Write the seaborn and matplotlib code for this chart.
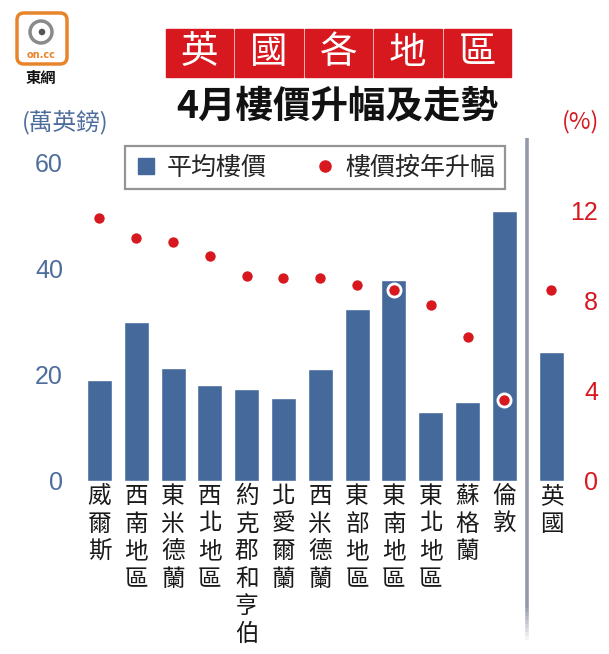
#英國各地區 4月樓價升幅及走勢
import numpy as np
import matplotlib.pyplot as plt
import matplotlib.transforms as mtransforms
from matplotlib.patches import Rectangle, FancyBboxPatch, Circle
from matplotlib.lines import Line2D
import seaborn as sns

regions = ['威爾斯', '西南地區', '東米德蘭', '西北地區', '約克郡和亨伯', '北愛爾蘭',
           '西米德蘭', '東部地區', '東南地區', '東北地區', '蘇格蘭', '倫敦', '英國']
avg_price = [19.0, 30.0, 21.4, 18.1, 17.3, 15.7, 21.2, 32.4, 37.9, 13.0, 15.0, 51.0, 24.3]  # 萬英鎊
yoy_rise = [11.7, 10.8, 10.6, 10.0, 9.1, 9.0, 9.0, 8.7, 8.5, 7.8, 6.4, 3.6, 8.5]  # %
price_ticks = [0, 20, 40, 60]
rise_ticks = [0, 4, 8, 12]
title_chars = ['英', '國', '各', '地', '區']

BLUE = '#46699b'
BLUE_TXT = '#4d6d9c'
RED = '#d7181f'
W, H = 609, 654

sns.set_theme(style='white')
plt.rcParams['font.family'] = ['Noto Sans CJK TC', 'DejaVu Sans']

def fx(px):
    return px / W

def fy(py):
    return 1 - py / H

# 英國 sits a little apart from the regions
pos = np.arange(len(regions), dtype=float)
pos[-1] += 0.28

fig = plt.figure(figsize=(W / 100, H / 100), dpi=100)
ax = fig.add_axes([fx(70), fy(481), (575 - 70) / W, (481 - 163) / H])

sns.barplot(x=pos, y=avg_price, native_scale=True, orient='x', width=0.68,
            color=BLUE, saturation=1, errorbar=None, ax=ax)
ax.set_xlim(-0.80, 12.92)
ax.set_ylim(0, 60)

ax2 = ax.twinx()
sns.scatterplot(x=pos, y=yoy_rise, ax=ax2, color=RED, s=90, edgecolor='white',
                linewidth=2, zorder=3, legend=False)
ax2.set_ylim(0, 14.13)
ax2.set_xlim(-0.80, 12.92)

for a in (ax, ax2):
    for s in a.spines.values():
        s.set_visible(False)
    a.grid(False)
    a.set_xlabel('')
    a.set_ylabel('')

ax.set_yticks(price_ticks)
ax.set_yticklabels([str(t) for t in price_ticks], fontsize=18,
                   family='Liberation Sans', color=BLUE_TXT)
ax.tick_params(axis='y', length=0, pad=5)

ax2.set_yticks(rise_ticks)
ax2.set_yticklabels([str(t) for t in rise_ticks], fontsize=18,
                    family='Liberation Sans', color=RED)
for lab in ax2.get_yticklabels():
    lab.set_ha('right')
ax2.tick_params(axis='y', length=0, pad=16.5)

ax.set_xticks(pos)
ax.set_xticklabels(['\n'.join(r) for r in regions], fontsize=17,
                   linespacing=1.25, va='top', color='#1a1a1a')
ax.tick_params(axis='x', length=0, pad=3)

# separator line before 英國
trans = mtransforms.blended_transform_factory(ax.transData, ax.transAxes)
sep_x = 11.62
ax.plot([sep_x, sep_x], [1.08, -0.40], transform=trans, color='#9598aa',
        lw=2.6, clip_on=False, solid_capstyle='butt', zorder=1)
steps = np.linspace(-0.40, -0.50, 9)
for k in range(len(steps) - 1):
    ax.plot([sep_x, sep_x], [steps[k], steps[k + 1]], transform=trans,
            color='#9598aa', alpha=1 - (k + 1) / len(steps), lw=2.6,
            clip_on=False, solid_capstyle='butt', zorder=1)

# legend
handles = [Line2D([], [], marker='s', ls='', color=BLUE, markersize=11),
           Line2D([], [], marker='o', ls='', color=RED, markersize=8)]
leg = fig.legend(handles, ['平均樓價', '樓價按年升幅'], loc='center',
                 bbox_to_anchor=(fx(314.5), fy(167.5)), ncol=2, fontsize=18,
                 frameon=True, fancybox=False, edgecolor='#7a7a7a',
                 borderpad=0.05, borderaxespad=0, handletextpad=0.35,
                 columnspacing=1.8, handlelength=1.0)
leg.get_frame().set_linewidth(1.6)
leg.get_frame().set_boxstyle('square', pad=0.30)

# red title boxes
bw = (512 - 165) / 5
for i, ch in enumerate(title_chars):
    x0 = 165 + i * bw
    fig.patches.append(Rectangle((fx(x0 + 1), fy(77)), (bw - 2) / W, 48 / H,
                                 transform=fig.transFigure, color=RED, zorder=0))
    fig.text(fx(x0 + bw / 2), fy(53), ch, ha='center', va='center',
             fontsize=27, color='white')

fig.text(fx(337), fy(106), '4月樓價升幅及走勢', ha='center', va='center',
         fontsize=27, weight='bold', color='#111111')

fig.text(fx(65), fy(122), '(萬英鎊)', ha='center', va='center',
         fontsize=17, color=BLUE_TXT)
fig.text(fx(581), fy(122), '(%)', ha='center', va='center',
         fontsize=17, color=RED)

# on.cc logo
pix = mtransforms.IdentityTransform()
fig.patches.append(FancyBboxPatch((17, H - 64), 50, 51,
                                  boxstyle='round,pad=0,rounding_size=7',
                                  transform=pix, facecolor='white',
                                  edgecolor='#e8842c', lw=2.5))
fig.patches.append(Circle((41, H - 32), 11, transform=pix, facecolor='none',
                          edgecolor='#8a8a8a', lw=2.5))
fig.patches.append(Circle((42, H - 32), 4, transform=pix, facecolor='#555555'))
fig.text(41 / W, 1 - 55 / H, 'on.cc', ha='center', va='center', fontsize=7,
         weight='bold', color='#e8842c', family='DejaVu Sans')
fig.text(41 / W, 1 - 78 / H, '東網', ha='center', va='center', fontsize=11,
         weight='bold', color='#111111')

fig.savefig('out.png', dpi=100)
